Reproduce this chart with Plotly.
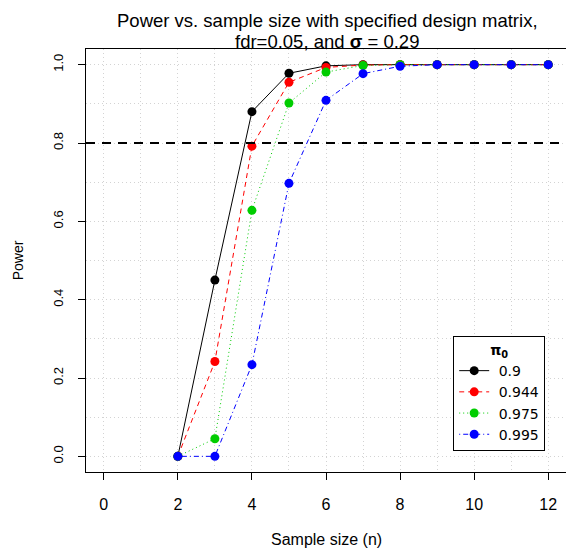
import plotly.graph_objects as go

n = [2, 3, 4, 5, 6, 7, 8, 9, 10, 11, 12]
pi0_labels = ["0.9", "0.944", "0.975", "0.995"]
power_09 = [0.0, 0.45, 0.88, 0.978, 0.997, 1.0, 1.0, 1.0, 1.0, 1.0, 1.0]
power_0944 = [0.0, 0.242, 0.792, 0.955, 0.993, 0.999, 1.0, 1.0, 1.0, 1.0, 1.0]
power_0975 = [0.0, 0.045, 0.628, 0.902, 0.981, 0.998, 1.0, 1.0, 1.0, 1.0, 1.0]
power_0995 = [0.0, 0.0, 0.234, 0.697, 0.909, 0.977, 0.996, 1.0, 1.0, 1.0, 1.0]
target_power = 0.8
x_ticks = [0, 2, 4, 6, 8, 10, 12]
y_ticks = [0.0, 0.2, 0.4, 0.6, 0.8, 1.0]

series = [power_09, power_0944, power_0975, power_0995]
colors = ["#000000", "#FF0000", "#00CD00", "#0000FF"]
dashes = ["solid", "5px,4px", "1px,3px", "1px,3px,5px,3px"]

FONT = "Liberation Sans, Arial, sans-serif"
LEGFONT = "DejaVu Sans, Liberation Sans, sans-serif"

fig = go.Figure()
for lab, vals, c, d in zip(pi0_labels, series, colors, dashes):
    fig.add_trace(go.Scatter(
        x=n, y=vals, name=" " + lab, mode="lines+markers",
        line=dict(color=c, dash=d, width=1),
        marker=dict(color=c, size=9, symbol="circle"),
    ))

fig.add_shape(type="line", xref="paper", x0=0, x1=1, yref="y", y0=target_power, y1=target_power,
              line=dict(color="black", width=2, dash="9px,7px"), layer="above")

fig.update_layout(
    width=566, height=549,
    margin=dict(l=86, r=0, t=49, b=77),
    paper_bgcolor="white", plot_bgcolor="white",
    font=dict(family=FONT, size=16, color="black"),
    showlegend=True,
    legend=dict(title=dict(text="<b>π<sub>0</sub></b>", side="top center",
                           font=dict(size=14, family=LEGFONT)),
                x=0.765, y=0.05, xanchor="left", yanchor="bottom",
                bordercolor="black", borderwidth=1, bgcolor="white",
                font=dict(size=14, family=LEGFONT), tracegroupgap=0, itemwidth=30),
)

fig.update_xaxes(range=[-0.48, 12.48], tickvals=x_ticks, ticktext=[str(v) for v in x_ticks],
                 tickfont=dict(size=16),
                 showgrid=True, gridcolor="#d3d3d3", griddash="1px,3px", gridwidth=1,
                 zeroline=False, showline=True, mirror=True, linecolor="black", linewidth=1,
                 ticks="outside", ticklen=7, tickcolor="black",
                 ticklabelstandoff=11,
                 minor=dict(dtick=1, showgrid=True, gridcolor="#d3d3d3", griddash="1px,3px"))
fig.update_yaxes(range=[-0.04, 1.04], tickvals=y_ticks, ticktext=[f"{v:.1f}" for v in y_ticks],
                 tickangle=-90, tickfont=dict(size=13),
                 showgrid=True, gridcolor="#d3d3d3", griddash="1px,3px", gridwidth=1,
                 zeroline=False, showline=True, mirror=True, linecolor="black", linewidth=1,
                 ticks="outside", ticklen=7, tickcolor="black",
                 ticklabelstandoff=10,
                 minor=dict(dtick=0.1, showgrid=True, gridcolor="#d3d3d3", griddash="1px,3px"))

fig.add_annotation(text="Power vs. sample size with specified design matrix,", xref="paper", yref="paper",
                   x=0.503, y=1.068, xanchor="center", yanchor="middle", showarrow=False,
                   font=dict(size=18.5))
fig.add_annotation(text="fdr=0.05, and <b>σ</b> = 0.29", xref="paper", yref="paper",
                   x=0.503, y=1.017, xanchor="center", yanchor="middle", showarrow=False,
                   font=dict(size=18.5))
fig.add_annotation(text="Sample size (n)", xref="paper", yref="paper", x=0.5, y=-0.16,
                   xanchor="center", yanchor="middle", showarrow=False, font=dict(size=16))
fig.add_annotation(text="Power", xref="paper", yref="paper", x=-0.142, y=0.5, textangle=-90,
                   xanchor="center", yanchor="middle", showarrow=False, font=dict(size=14))

fig.write_html("out.html")
